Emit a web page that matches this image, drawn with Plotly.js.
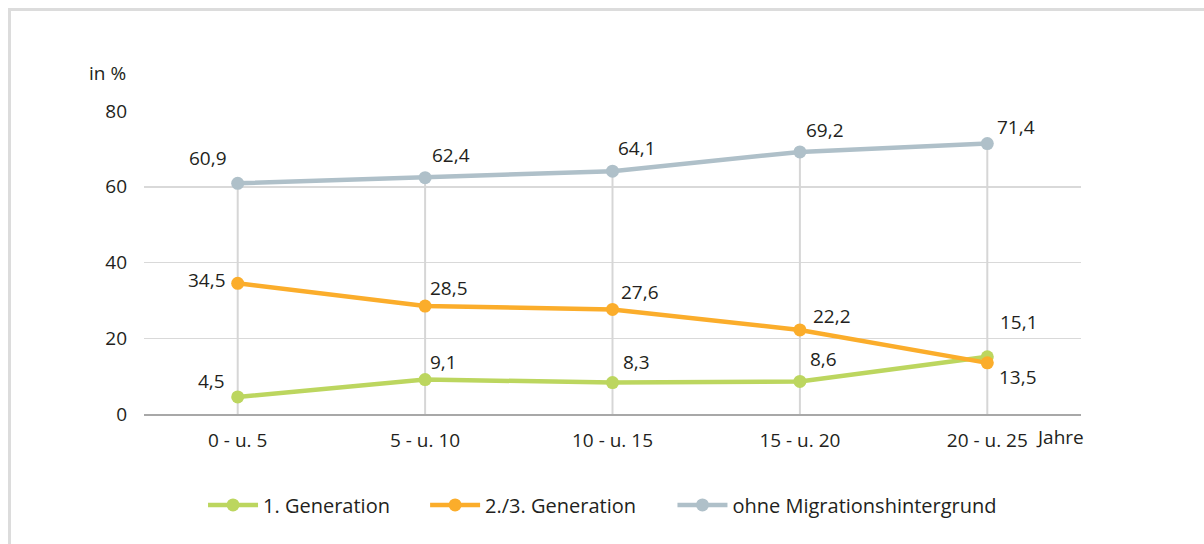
<!DOCTYPE html>
<html>
<head>
<meta charset="utf-8">
<script src="https://cdn.plot.ly/plotly-3.0.1.min.js"></script>
<style>
  html, body { margin: 0; padding: 0; background: #fff; }
  #frame { position: absolute; left: 8px; top: 8px; width: 1300px; height: 700px;
           border-left: 3px solid #dcdcdc; border-top: 3px solid #dcdcdc; }
  #chart { position: absolute; left: 0; top: 0; width: 1204px; height: 544px; }
</style>
</head>
<body>
<div id="frame"></div>
<div id="chart"></div>
<script>
// ---- data ----
const categories = ['0 - u. 5', '5 - u. 10', '10 - u. 15', '15 - u. 20', '20 - u. 25'];
const xUnit = 'Jahre';
const yUnit = 'in %';
const seriesNames = ['1. Generation', '2./3. Generation', 'ohne Migrationshintergrund'];
const gen1 = [4.5, 9.1, 8.3, 8.6, 15.1];
const gen23 = [34.5, 28.5, 27.6, 22.2, 13.5];
const ohne = [60.9, 62.4, 64.1, 69.2, 71.4];
const yTicks = [0, 20, 40, 60, 80];

// ---- styling ----
const colors = ['#bcd65f', '#fbad2b', '#afc0c9'];
const FONT = '"Open Sans", sans-serif';
const TXT = '#231f20';
const fmt = v => v.toFixed(1).replace('.', ',');

// label offsets (px) per series and point
const offsets = [
  [[-26, 16], [18, 18], [24, 21], [24, 22], [32, 35]],
  [[-31, 3], [24, 18], [27, 17], [32, 14], [31, -14]],
  [[-30, 25], [26, 23], [24, 23], [25, 22], [29, 17]]
];

const allSeries = [gen1, gen23, ohne];
const legends = ['legend', 'legend2', 'legend3'];

const traces = [];
// drop lines from top series down to the axis
traces.push({
  x: categories, y: ohne, type: 'scatter', mode: 'markers',
  marker: { size: 1, opacity: 0 }, showlegend: false, hoverinfo: 'skip',
  error_y: { type: 'data', symmetric: false, array: ohne.map(() => 0), arrayminus: ohne,
             width: 0, thickness: 2, color: '#d6d6d6' }
});
allSeries.forEach((s, i) => {
  traces.push({
    x: categories, y: s, type: 'scatter', mode: 'lines+markers', name: seriesNames[i],
    line: { color: colors[i], width: 4.5 },
    marker: { color: colors[i], size: 13 },
    legend: legends[i], hoverinfo: 'skip'
  });
});

const annotations = [];
allSeries.forEach((s, i) => {
  s.forEach((v, j) => {
    annotations.push({
      x: categories[j], y: v, xref: 'x', yref: 'y', text: fmt(v), showarrow: false,
      xanchor: 'center', yanchor: 'middle', xshift: offsets[i][j][0], yshift: offsets[i][j][1],
      font: { family: FONT, size: 19, color: TXT }
    });
  });
});
annotations.push({
  x: categories[categories.length - 1], y: 0, xref: 'x', yref: 'paper', text: xUnit,
  showarrow: false, xanchor: 'left', yanchor: 'middle', xshift: 47, yshift: -23,
  font: { family: FONT, size: 19, color: TXT }
});
annotations.push({
  x: -0.017, y: 1.125, xref: 'paper', yref: 'paper', text: yUnit, showarrow: false,
  xanchor: 'right', yanchor: 'middle', font: { family: FONT, size: 19, color: TXT }
});

const legendBase = (x) => ({
  orientation: 'h', x: x, y: -0.30, xanchor: 'left', yanchor: 'middle',
  font: { family: FONT, size: 20, color: TXT }, itemwidth: 50,
  bgcolor: 'rgba(0,0,0,0)', borderwidth: 0
});

const layout = {
  width: 1204, height: 544,
  margin: { l: 144, r: 123, t: 111, b: 130 },
  paper_bgcolor: 'rgba(0,0,0,0)', plot_bgcolor: 'rgba(0,0,0,0)',
  font: { family: FONT, size: 19, color: TXT },
  xaxis: {
    type: 'category', range: [-0.5, 4.5], showgrid: false, zeroline: false,
    showline: true, linecolor: '#a8a8a8', linewidth: 2,
    ticks: '', ticklabelstandoff: 8, fixedrange: true,
    tickfont: { family: FONT, size: 19, color: TXT }
  },
  yaxis: {
    range: [0, 80], tickvals: yTicks, ticktext: yTicks.map(String),
    showgrid: true, gridcolor: '#d9d9d9', gridwidth: 1.5, zeroline: false, showline: false,
    ticks: '', ticklabelstandoff: 16, fixedrange: true,
    tickfont: { family: FONT, size: 19, color: TXT }
  },
  legend: legendBase(0.063),
  legend2: legendBase(0.30),
  legend3: legendBase(0.564),
  annotations: annotations,
  showlegend: true
};

Plotly.newPlot('chart', traces, layout, { displayModeBar: false, staticPlot: true });
</script>
</body>
</html>
